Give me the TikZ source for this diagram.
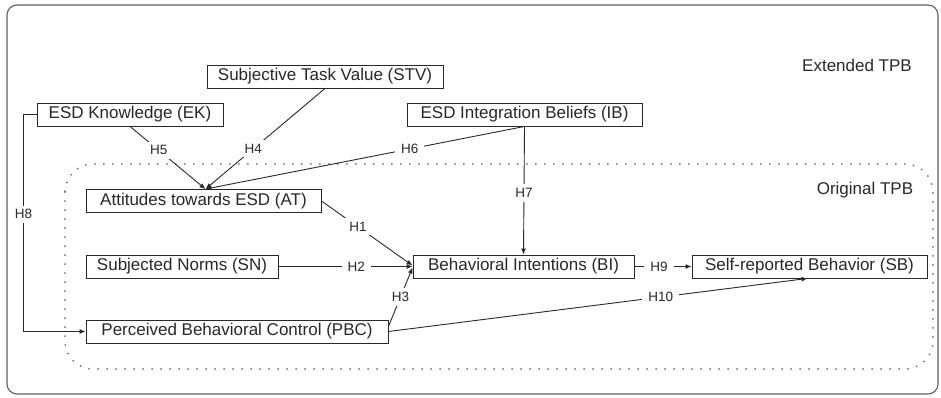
\documentclass[tikz,border=0pt]{standalone}
\usepackage{fontspec}
\setmainfont{Liberation Sans}
\usetikzlibrary{arrows.meta,positioning}
\definecolor{inkgray}{RGB}{40,40,40}
\definecolor{framegray}{RGB}{95,95,95}
\definecolor{dotgray}{RGB}{110,110,110}

\begin{document}
\begin{tikzpicture}[x=1pt, y=-1pt,
  box/.style={draw=inkgray, line width=0.9pt, fill=white, text=inkgray,
              inner xsep=4pt, inner ysep=0pt, minimum height=23pt,
              align=center, font=\fontsize{17}{19}\selectfont},
  arr/.style={-{Latex[length=6pt,width=5pt]}, inkgray, line width=0.9pt},
  lbl/.style={font=\fontsize{13.5}{15}\selectfont, text=inkgray,
              fill=white, inner xsep=6pt, inner ysep=4pt},
  tag/.style={font=\fontsize{17}{19}\selectfont, text=inkgray},
]
\useasboundingbox (0,0) rectangle (941,397);

% frames
\draw[framegray, line width=1.1pt, rounded corners=10pt] (7,5) rectangle (938,394);
\draw[dotgray, line width=2pt, line cap=round, dash pattern=on 0pt off 9pt,
      rounded corners=28pt] (65,164) rectangle (933,369);
\node[tag] (ext) at (857,65) {Extended TPB};
\node[tag] (orig) at (865,190) {Original TPB};

% constructs
\node[box, minimum width=236pt] (stv) at (325,76.5) {Subjective Task Value (STV)};
\node[box, minimum width=186pt] (ek) at (130,114.5) {ESD Knowledge (EK)};
\node[box, minimum width=235pt] (ib) at (524.5,114.5) {ESD Integration Beliefs (IB)};
\node[box, minimum width=235pt] (at) at (203.5,201) {Attitudes towards ESD (AT)};
\node[box, minimum width=192pt] (sn) at (182,266.5) {Subjected Norms (SN)};
\node[box, minimum width=302pt] (pbc) at (237,331.5) {Perceived Behavioral Control (PBC)};
\node[box, minimum width=221pt] (bi) at (523.5,266.5) {Behavioral Intentions (BI)};
\node[box, minimum width=235pt] (sb) at (809.5,266.5) {Self-reported Behavior (SB)};

% hypotheses
\draw[arr] (ek.south) -- node[lbl, pos=0.38]{H5} ([xshift=2pt]at.north);
\draw[arr] (stv.south) -- node[lbl, pos=0.6]{H4} ([xshift=2pt]at.north);
\draw[arr] (ib.south) -- node[lbl, pos=0.36]{H6} ([xshift=2pt]at.north);
\draw[arr] (ib.south) -- node[lbl, pos=0.52]{H7} (bi.north);
\draw[arr] (at.east) -- node[lbl, pos=0.4]{H1} ([yshift=1pt]bi.west);
\draw[arr] (sn.east) -- node[lbl, pos=0.58]{H2} (bi.west);
\draw[arr] ([yshift=5pt]pbc.east) -- node[lbl, pos=0.5]{H3} ([yshift=-1pt]bi.west);
\draw[arr] (bi.east) -- node[lbl, pos=0.43]{H9} (sb.west);
\draw[arr] (pbc.east) -- node[lbl, pos=0.65]{H10} ([xshift=-2pt]sb.south);
\draw[arr] (ek.west) -- ++(-13,0) |- node[lbl, pos=0.23]{H8} (pbc.west);
\end{tikzpicture}
\end{document}
